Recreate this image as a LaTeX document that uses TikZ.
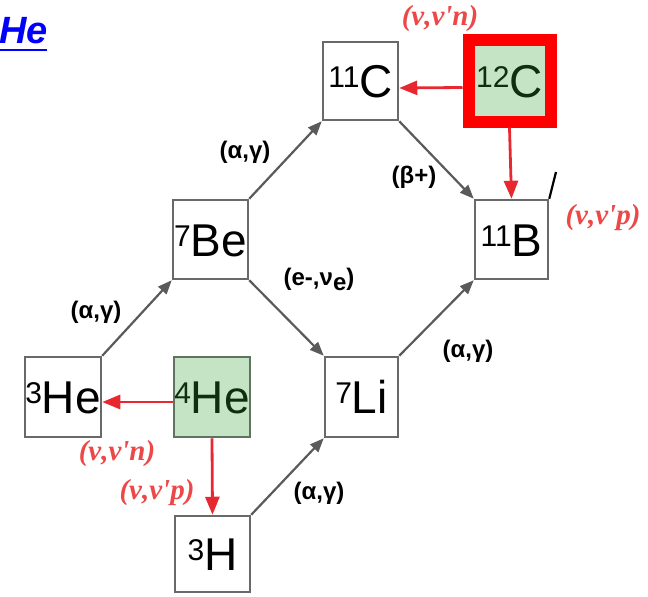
\documentclass[tikz,border=0pt]{standalone}
\usepackage{fontspec}
\setmainfont{Liberation Sans}
\newfontfamily\redserif{Liberation Serif}
\usetikzlibrary{arrows.meta}
\definecolor{boxgray}{RGB}{105,105,105}
\definecolor{arrgray}{RGB}{90,90,90}
\definecolor{greenfill}{RGB}{197,228,197}
\definecolor{greenedge}{RGB}{95,115,95}
\definecolor{darkgreen}{RGB}{15,45,15}
\definecolor{redarrow}{RGB}{232,40,48}
\definecolor{redlabel}{RGB}{236,72,72}
\definecolor{linkblue}{RGB}{0,0,255}
\newcommand{\iso}[2]{\raisebox{10pt}{\fontsize{30}{30}\selectfont #1}#2}
\begin{document}
\begin{tikzpicture}[x=1pt,y=-1pt,
  nuc/.style={draw=boxgray, line width=2.5pt, minimum width=75pt, minimum height=78pt,
    inner sep=0pt, fill=white, font=\fontsize{46}{46}\selectfont, text height=33pt, text depth=0pt},
  target/.style={nuc, fill=greenfill, draw=greenedge, text=darkgreen},
  flow/.style={draw=arrgray, line width=2.2pt, -{Triangle[length=14pt,width=11pt]}},
  nuflow/.style={draw=redarrow, line width=2.8pt, -{Triangle[length=18pt,width=14pt]}},
  rlab/.style={text=redlabel, font=\redserif\fontsize{29}{29}\selectfont\bfseries\itshape, inner sep=0pt},
  blab/.style={text=black, font=\fontsize{24}{24}\selectfont\bfseries, inner sep=0pt}
]
\useasboundingbox (0,0) rectangle (648,597);

% title link
\node[anchor=base west, inner sep=0pt, text=linkblue,
  font=\fontsize{38}{38}\selectfont\bfseries\itshape] (title) at (-1,43) {He};
\draw[linkblue, line width=2.5pt] (0,50) -- (47,50);

% nuclei
\node[nuc] (c11) at (360.5,81) {\iso{11}{C}};
\node[target, draw=red, line width=12pt, minimum width=82pt, minimum height=82pt] (c12) at (509.5,80.5) {\iso{12}{C}};
\node[nuc, minimum width=73pt, minimum height=79pt] (b11) at (511.5,239.5) {\iso{11}{B}};
\node[nuc, minimum height=79pt] (be7) at (210.5,239.5) {\iso{7}{Be}};
\node[nuc, minimum width=76pt, minimum height=80pt] (he3) at (63,397) {\iso{3}{He}};
\node[target, minimum width=76pt, minimum height=80pt] (he4) at (212,397) {\iso{4}{He}};
\node[nuc, minimum width=73pt, minimum height=80pt] (li7) at (361.5,397) {\iso{7}{Li}};
\node[nuc, minimum height=76pt] (h3) at (212.5,554) {\iso{3}{H}};

% reaction flow
\draw[flow] (he3.north east) -- (be7.south west);
\draw[flow] (be7.north east) -- (c11.south west);
\draw[flow] (be7.south east) -- (li7.north west);
\draw[flow] (c11.south east) -- (b11.north west);
\draw[flow] (h3.north east) -- (li7.south west);
\draw[flow] (li7.north east) -- (b11.south west);

% neutrino reactions
\draw[nuflow] ([yshift=-7pt]c12.west) -- ([yshift=-7pt]c11.east);
\draw[nuflow] (c12.south) -- (b11.north);
\draw[nuflow] ([yshift=-5pt]he4.west) -- ([yshift=-5pt]he3.east);
\draw[nuflow] (he4.south) -- (h3.north);

% fragment of line leaving the picture
\coordinate (frag) at (556,172);
\draw[black, line width=2.2pt] (b11.north east) -- (frag);

% labels
\node[rlab] (l1) at (440,19) {(ν,ν'n)};
\node[rlab] (l2) at (603,218) {(ν,ν'p)};
\node[rlab] (l3) at (117,454) {(ν,ν'n)};
\node[rlab] (l4) at (157,493) {(ν,ν'p)};
\node[blab] (a1) at (245,152) {(α,γ)};
\node[blab] (a2) at (414,177) {(β+)};
\node[blab] (a3) at (96,312) {(α,γ)};
\node[blab] (a4) at (319,279) {(e-,ν\raisebox{-5pt}{e})};
\node[blab] (a5) at (468,351) {(α,γ)};
\node[blab] (a6) at (319,493) {(α,γ)};
\end{tikzpicture}
\end{document}
